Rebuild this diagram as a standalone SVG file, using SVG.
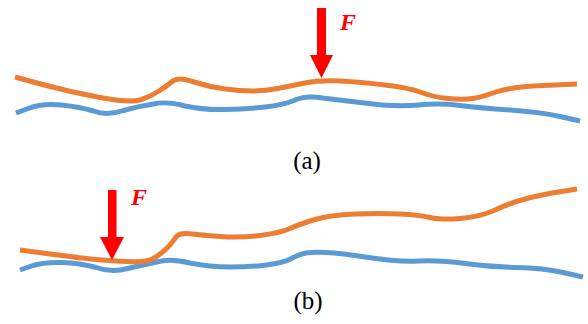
<svg xmlns="http://www.w3.org/2000/svg" width="588" height="324" viewBox="0 0 588 324">
<style>
.blue{fill:none;stroke:#5B9BD5;stroke-width:5;stroke-linecap:butt;stroke-linejoin:round}
.orange{fill:none;stroke:#ED7D31;stroke-width:5;stroke-linecap:butt;stroke-linejoin:round}
.arrow{fill:#FF0000}
.f{font-family:"Liberation Serif",serif;font-weight:bold;font-style:italic;font-size:24px;fill:#FF0000}
.cap{font-family:"Liberation Serif",serif;font-size:25px;fill:#000;text-anchor:middle}
</style>
<rect width="588" height="324" fill="#fff"/>
<g id="panel-a">
<path class="blue" d="M16,113 L29.5,108 Q43,103 61.5,105 Q80,107 93.5,111 Q107,116 123.5,110.5 Q140,106 153.5,104 Q167,101 185,106 Q203,110 225,109.5 Q247,109 265,107 Q283,105 294,100.5 Q305,95 322.5,98 Q340,100 368.5,103.5 Q397,107 418.5,105 Q440,103 460,105.5 Q480,108 510,110 Q540,112 560,116.5 L580,121"/>
<path class="orange" d="M15,77 L42.5,84.5 Q70,92 100,97.5 Q130,103 140,100 Q150,97 159,91 Q168,85 171.5,82 Q175,79 180,79 Q185,79 197.5,83 Q210,87 225,89 Q240,91 252.5,91 Q265,91 277.5,88.5 Q290,86 305,83 Q320,80 340,81 Q360,82 385,85 Q410,88 421.5,92.5 Q433,97 448,98.5 Q463,100 472.5,98.5 Q482,97 496,92 Q510,87 543.5,85.5 L577,84"/>
<g id="force-a">
<rect class="arrow" x="317" y="8" width="9" height="48"/>
<polygon class="arrow" points="310,55 333,55 321.5,78"/>
<text class="f" x="340" y="30">F</text>
</g>
<text class="cap" x="307" y="169">(a)</text>
</g>
<g id="panel-b">
<path class="blue" d="M20,270 L31.5,266 Q43,262 61.5,262.5 Q80,263 96,267.5 Q112,273 127.5,268.5 Q143,265 156.5,262 Q170,258 190,263 Q210,267 230,267 Q250,267 266.5,265 Q283,263 291.5,258.5 Q300,254 306,253 Q312,252 326,252.5 Q340,253 368.5,257.5 Q397,262 418.5,261 Q440,260 465,263.5 Q490,267 516.5,267.5 Q543,268 563,272.5 L583,277"/>
<path class="orange" d="M20,250 L50,254 Q80,258 96,259.5 Q112,261 126,261.5 Q140,262 146,261 Q152,260 157.5,256 Q163,252 167.5,247.5 Q172,243 174.5,239 Q177,235 181,234 Q185,233 192.5,234 Q200,235 220,236.5 Q240,238 260,235.5 Q280,233 290,228.5 Q300,224 315,219.5 Q330,215 355,214 Q380,213 400,214 Q420,215 430,217.5 Q440,220 460,218.5 Q480,217 495,210 Q510,203 525,199 Q540,195 558.5,192 L577,189"/>
<g id="force-b">
<rect class="arrow" x="108" y="190" width="8.5" height="48"/>
<polygon class="arrow" points="100,237 124,237 112,260"/>
<text class="f" x="131" y="205">F</text>
</g>
<text class="cap" x="308" y="309">(b)</text>
</g>
</svg>
